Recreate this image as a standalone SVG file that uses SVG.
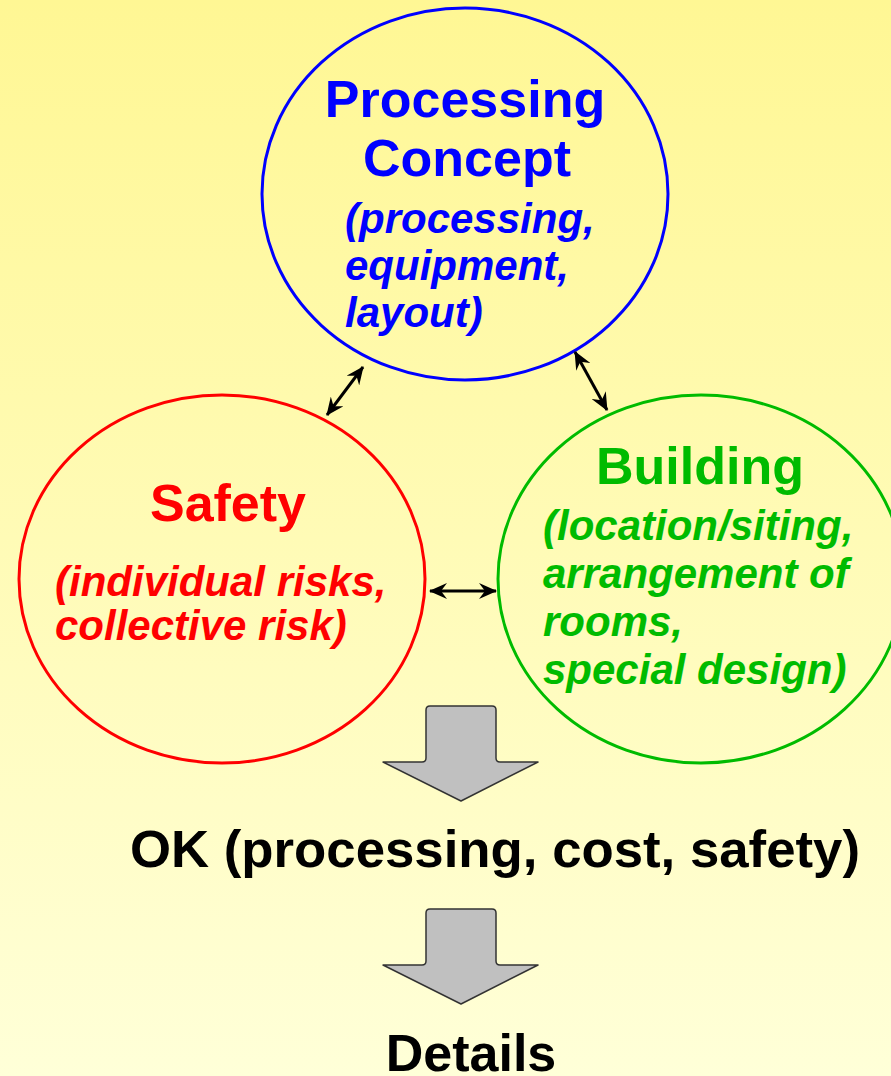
<svg xmlns="http://www.w3.org/2000/svg" xmlns:xlink="http://www.w3.org/1999/xlink" width="891" height="1076" viewBox="0 0 891 1076">
  <defs>
    <linearGradient id="bg" x1="0" y1="0" x2="0" y2="1">
      <stop offset="0" stop-color="#FFF794"/>
      <stop offset="1" stop-color="#FFFFD8"/>
    </linearGradient>
    <marker id="ah" viewBox="0 0 18 16" refX="17" refY="8" markerWidth="18" markerHeight="16" markerUnits="userSpaceOnUse" orient="auto-start-reverse">
      <path d="M0,0 L18,8 L0,16 L6,8 Z" fill="#000"/>
    </marker>
    <path id="blk" d="M430,706 L492,706 Q496,706 496,710 L496,758 Q496,762 500,762 L538,762 L461,801 L383,762 L422,762 Q426,762 426,758 L426,710 Q426,706 430,706 Z"/>
    <style>
      .ring { fill: none; stroke-width: 3; }
      .h { font-family: "Liberation Sans", Arial, sans-serif; font-weight: bold; font-size: 52px; }
      .s { font-family: "Liberation Sans", Arial, sans-serif; font-weight: bold; font-style: italic; font-size: 42px; }
      .mid { text-anchor: middle; }
      .dbl { stroke: #000; stroke-width: 3; fill: none; marker-start: url(#ah); marker-end: url(#ah); }
      .blk { fill: #C0C0C0; stroke: #333; stroke-width: 1.5; stroke-linejoin: round; }
    </style>
  </defs>
  <rect x="0" y="0" width="891" height="1076" fill="url(#bg)"/>

  <g id="node-processing">
    <ellipse class="ring" cx="465" cy="194" rx="203" ry="186" stroke="#0000FF"/>
    <text class="h mid" x="465" y="117" fill="#0000FF">Processing</text>
    <text class="h mid" x="467" y="176" fill="#0000FF">Concept</text>
    <text class="s" x="345" y="233" fill="#0000FF">(processing,</text>
    <text class="s" x="345" y="280" fill="#0000FF">equipment,</text>
    <text class="s" x="345" y="327" fill="#0000FF">layout)</text>
  </g>

  <g id="node-safety">
    <ellipse class="ring" cx="222" cy="579" rx="203" ry="184" stroke="#FF0000"/>
    <text class="h mid" x="228" y="521" fill="#FF0000">Safety</text>
    <text class="s" x="55" y="596" fill="#FF0000">(individual risks,</text>
    <text class="s" x="55" y="640" fill="#FF0000">collective risk)</text>
  </g>

  <g id="node-building">
    <ellipse class="ring" cx="701" cy="579" rx="203" ry="184" stroke="#00BB00"/>
    <text class="h mid" x="700" y="484" fill="#00BB00">Building</text>
    <text class="s" x="543" y="540" fill="#00BB00">(location/siting,</text>
    <text class="s" x="543" y="588" fill="#00BB00">arrangement of</text>
    <text class="s" x="543" y="636" fill="#00BB00">rooms,</text>
    <text class="s" x="543" y="684" fill="#00BB00">special design)</text>
  </g>

  <g id="node-ok">
    <text class="h" x="130" y="867" fill="#000" textLength="730" lengthAdjust="spacingAndGlyphs">OK (processing, cost, safety)</text>
  </g>

  <g id="node-details">
    <text class="h mid" x="471" y="1071" fill="#000">Details</text>
  </g>

  <g id="connectors">
    <line class="dbl" x1="327" y1="415" x2="363" y2="367"/>
    <line class="dbl" x1="575" y1="352" x2="607" y2="410"/>
    <line class="dbl" x1="430" y1="591" x2="496" y2="591"/>
    <use xlink:href="#blk" class="blk"/>
    <use xlink:href="#blk" class="blk" transform="translate(0,203)"/>
  </g>
</svg>
